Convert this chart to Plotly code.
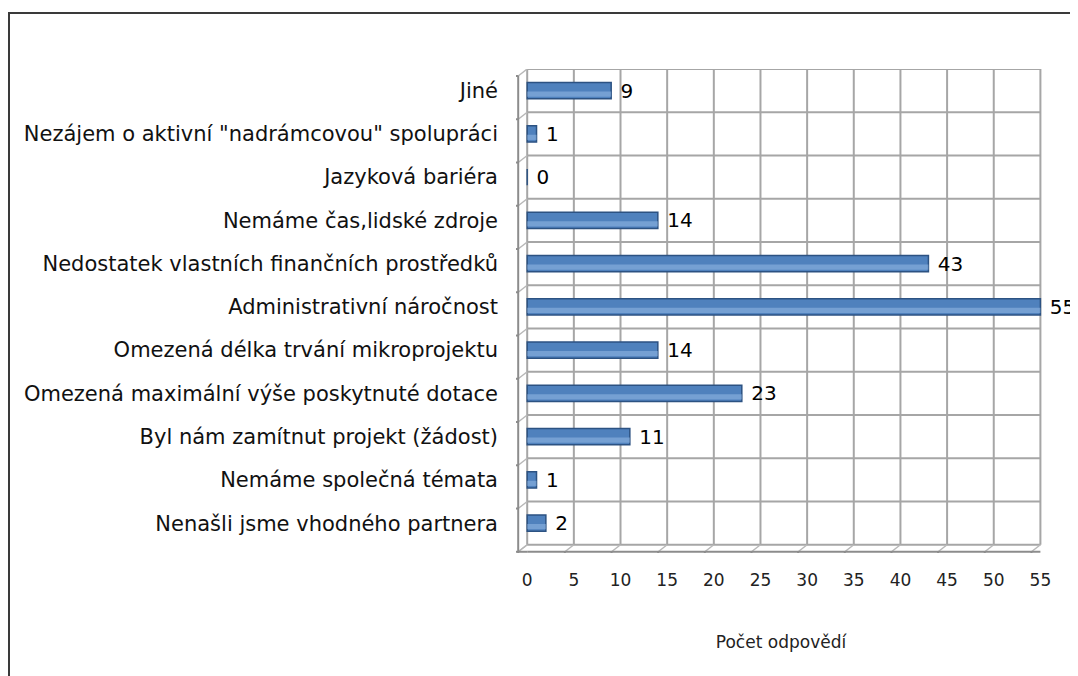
import plotly.graph_objects as go

categories = [
    "Nenašli jsme vhodného partnera",
    "Nemáme společná témata",
    "Byl nám zamítnut projekt (žádost)",
    "Omezená maximální výše poskytnuté dotace",
    "Omezená délka trvání mikroprojektu",
    "Administrativní náročnost",
    "Nedostatek vlastních finančních prostředků",
    "Nemáme čas,lidské zdroje",
    "Jazyková bariéra",
    "Nezájem o aktivní \"nadrámcovou\" spolupráci",
    "Jiné",
]
values = [2, 1, 11, 23, 14, 55, 43, 14, 0, 1, 9]
x_ticks = list(range(0, 56, 5))
x_title = "Počet odpovědí"

W, H = 1078, 676
L, R, T, B = 508, 40, 61, 131
pw, ph = W - L - R, H - T - B
DX, DY = 9, 7  # depth offset of the 3D front edge, in pixels

def px_to_paper_x(px):
    return (px - L) / pw

def px_to_paper_y(py):
    return (H - B - py) / ph

FONT = "DejaVu Sans"
AX = "#8c8c8c"
GRID = "#a6a6a6"

fig = go.Figure()
fig.add_trace(go.Bar(
    y=categories, x=values, orientation="h", width=0.38,
    marker=dict(color="#4f81bd", line=dict(color="#2c5282", width=1.5)),
    text=[str(v) for v in values], texttemplate=" %{text}",
    textposition="outside", constraintext="none",
    textfont=dict(family=FONT, size=20, color="#000000"),
    cliponaxis=False, showlegend=False,
))
# highlight overlay to mimic the cylinder shading
fig.add_trace(go.Bar(
    y=categories, x=values, orientation="h", width=0.12, offset=-0.14,
    marker=dict(color="rgba(150,185,230,0.55)", line=dict(width=0)),
    hoverinfo="skip", showlegend=False,
))

shapes = []
ymin, ymax = -0.5, len(categories) - 0.5
xmax = x_ticks[-1]
# back-wall vertical gridlines
for t in x_ticks:
    shapes.append(dict(type="line", xref="x", yref="y", x0=t, x1=t, y0=ymin, y1=ymax,
                       line=dict(color=GRID, width=2), layer="below"))
for i in range(len(categories) + 1):
    b = i - 0.5
    # back-wall horizontal gridline at category boundary
    shapes.append(dict(type="line", xref="x", yref="y", x0=0, x1=xmax,
                       y0=b, y1=b, line=dict(color=GRID, width=2), layer="below"))
    # depth diagonal on the side wall
    shapes.append(dict(type="line", xref="x", xsizemode="pixel", xanchor=0,
                       x0=-DX, x1=0, yref="y", ysizemode="pixel", yanchor=b,
                       y0=-DY, y1=0, line=dict(color="#b8b8b8", width=1.5), layer="below"))
    # tick on front y axis
    shapes.append(dict(type="line", xref="x", xsizemode="pixel", xanchor=0,
                       x0=-DX - 7, x1=-DX, yref="y", ysizemode="pixel", yanchor=b,
                       y0=-DY, y1=-DY, line=dict(color=AX, width=2)))
# front y axis line
shapes.append(dict(type="line", xref="x", xsizemode="pixel", xanchor=0,
                   x0=-DX, x1=-DX, yref="y", ysizemode="pixel", yanchor=ymin,
                   y0=-DY, y1=-DY + (ph - 8), line=dict(color=AX, width=2)))
# front x axis line, ticks and floor diagonals
for t in x_ticks:
    shapes.append(dict(type="line", xref="x", xsizemode="pixel", xanchor=t,
                       x0=-DX, x1=0, yref="y", ysizemode="pixel", yanchor=ymin,
                       y0=-DY, y1=0, line=dict(color="#b8b8b8", width=1.5), layer="below"))
    shapes.append(dict(type="line", xref="x", xsizemode="pixel", xanchor=t,
                       x0=-DX, x1=-DX, yref="y", ysizemode="pixel", yanchor=ymin,
                       y0=-DY, y1=-DY - 7, line=dict(color=AX, width=2)))
shapes.append(dict(type="line", xref="x", yref="y", ysizemode="pixel", yanchor=ymin,
                   x0=0, x1=xmax, y0=-DY, y1=-DY, line=dict(color=AX, width=2)))
shapes.append(dict(type="line", xref="x", xsizemode="pixel", xanchor=0,
                   x0=-DX, x1=0, yref="y", ysizemode="pixel", yanchor=ymin,
                   y0=-DY, y1=-DY, line=dict(color=AX, width=2)))
# outer border
shapes.append(dict(type="rect", xref="paper", yref="paper",
                   x0=px_to_paper_x(1), x1=px_to_paper_x(1100),
                   y0=px_to_paper_y(700), y1=px_to_paper_y(5),
                   line=dict(color="#3a3a3a", width=2)))
fig.update_layout(shapes=shapes)

fig.update_layout(
    width=W, height=H,
    margin=dict(l=L, r=R, t=T, b=B, autoexpand=False),
    paper_bgcolor="white", plot_bgcolor="white",
    bargap=0.6, barmode="overlay",
    font=dict(family=FONT, color="#000000"),
    xaxis=dict(
        range=[-1.2, 55.6], tickvals=x_ticks, ticktext=[str(t) for t in x_ticks],
        showgrid=False, showline=False, ticks="", zeroline=False,
        tickfont=dict(size=17, color="#222222"),
        automargin=False, ticklabelstandoff=15,
        title=dict(text=x_title, font=dict(size=17, color="#222222"), standoff=47),
    ),
    yaxis=dict(
        range=[ymin - 0.19, ymax], showgrid=False, showline=False, ticks="",
        automargin=False,
        tickfont=dict(size=21, color="#111111"), ticklabelstandoff=17,
    ),
)

fig.write_html("out.html")
